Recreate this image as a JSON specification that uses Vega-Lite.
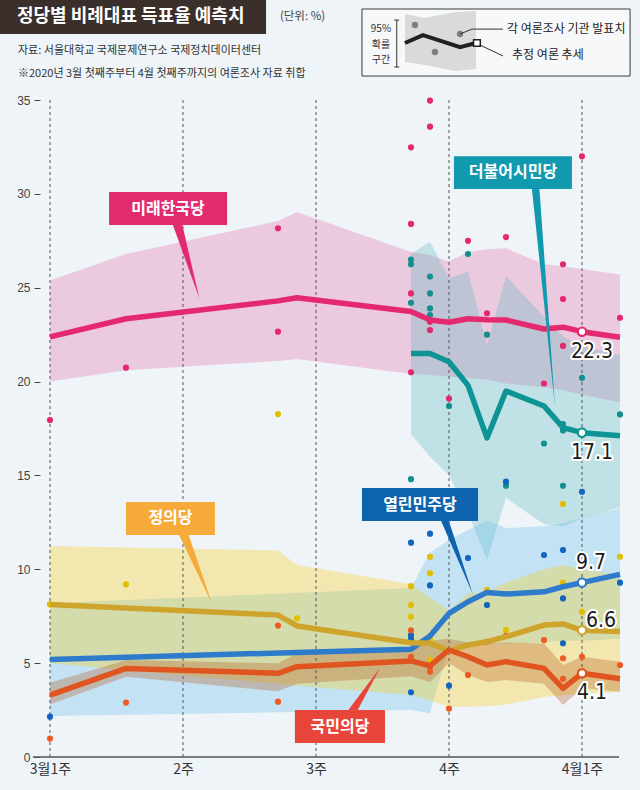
{
  "$schema": "https://vega.github.io/schema/vega-lite/v6.json",
  "width": 600,
  "height": 757,
  "autosize": "none",
  "padding": {"left": 40, "top": 0, "right": 0, "bottom": 33},
  "background": "#eef4f8",
  "config": {"view": {"stroke": null}, "font": "Noto Sans CJK KR", "axis": {"grid": false}},
  "resolve": {"scale": {"color": "independent"}},
  "data": {"values": [{}]},
  "datasets": {
    "trend": [
      {"party": "미래한국당", "day": 0, "est": 22.38, "lo": 20.0, "hi": 25.38},
      {"party": "미래한국당", "day": 4, "est": 23.35, "lo": 20.6, "hi": 26.8},
      {"party": "미래한국당", "day": 12, "est": 24.3, "lo": 21.1, "hi": 28.56},
      {"party": "미래한국당", "day": 13, "est": 24.47, "lo": 21.2, "hi": 29.04},
      {"party": "미래한국당", "day": 19, "est": 23.73, "lo": 20.4, "hi": 26.9},
      {"party": "미래한국당", "day": 20, "est": 23.28, "lo": 20.35, "hi": 26.75},
      {"party": "미래한국당", "day": 21, "est": 23.16, "lo": 20.26, "hi": 26.4},
      {"party": "미래한국당", "day": 22, "est": 23.35, "lo": 20.2, "hi": 26.9},
      {"party": "미래한국당", "day": 23, "est": 23.3, "lo": 20.1, "hi": 27.05},
      {"party": "미래한국당", "day": 24, "est": 23.28, "lo": 19.9, "hi": 27.1},
      {"party": "미래한국당", "day": 26, "est": 22.8, "lo": 19.7, "hi": 26.25},
      {"party": "미래한국당", "day": 27, "est": 22.9, "lo": 19.55, "hi": 26.15},
      {"party": "미래한국당", "day": 28, "est": 22.66, "lo": 19.3, "hi": 26.0},
      {"party": "미래한국당", "day": 30, "est": 22.36, "lo": 18.9, "hi": 25.7},
      {"party": "더불어시민당", "day": 19, "est": 21.5, "lo": 17.2, "hi": 26.8},
      {"party": "더불어시민당", "day": 20, "est": 21.5, "lo": 16.0, "hi": 27.45},
      {"party": "더불어시민당", "day": 21, "est": 21.06, "lo": 15.0, "hi": 25.5},
      {"party": "더불어시민당", "day": 22, "est": 19.8, "lo": 13.0, "hi": 25.85},
      {"party": "더불어시민당", "day": 23, "est": 17.0, "lo": 10.5, "hi": 21.95},
      {"party": "더불어시민당", "day": 24, "est": 19.5, "lo": 13.8, "hi": 25.6},
      {"party": "더불어시민당", "day": 26, "est": 18.7, "lo": 12.4, "hi": 23.46},
      {"party": "더불어시민당", "day": 27, "est": 17.55, "lo": 12.3, "hi": 22.4},
      {"party": "더불어시민당", "day": 28, "est": 17.28, "lo": 12.7, "hi": 21.9},
      {"party": "더불어시민당", "day": 30, "est": 17.12, "lo": 13.3, "hi": 21.4},
      {"party": "열린민주당", "day": 0, "est": 5.2, "lo": 2.18, "hi": 8.19},
      {"party": "열린민주당", "day": 19, "est": 5.74, "lo": 2.5, "hi": 9.0},
      {"party": "열린민주당", "day": 20, "est": 6.45, "lo": 2.33, "hi": 10.9},
      {"party": "열린민주당", "day": 21, "est": 7.65, "lo": 5.9, "hi": 11.56},
      {"party": "열린민주당", "day": 22, "est": 8.27, "lo": 6.0, "hi": 12.1},
      {"party": "열린민주당", "day": 23, "est": 8.77, "lo": 6.0, "hi": 12.6},
      {"party": "열린민주당", "day": 24, "est": 8.68, "lo": 6.05, "hi": 12.2},
      {"party": "열린민주당", "day": 26, "est": 8.8, "lo": 6.1, "hi": 12.3},
      {"party": "열린민주당", "day": 27, "est": 9.07, "lo": 6.2, "hi": 12.45},
      {"party": "열린민주당", "day": 28, "est": 9.29, "lo": 6.2, "hi": 12.75},
      {"party": "열린민주당", "day": 30, "est": 9.73, "lo": 6.3, "hi": 13.25},
      {"party": "정의당", "day": 0, "est": 8.13, "lo": 5.0, "hi": 11.24},
      {"party": "정의당", "day": 12, "est": 7.56, "lo": 3.9, "hi": 11.0},
      {"party": "정의당", "day": 13, "est": 6.98, "lo": 3.8, "hi": 10.23},
      {"party": "정의당", "day": 19, "est": 6.09, "lo": 3.3, "hi": 9.2},
      {"party": "정의당", "day": 20, "est": 6.06, "lo": 3.0, "hi": 8.5},
      {"party": "정의당", "day": 21, "est": 5.66, "lo": 2.68, "hi": 7.8},
      {"party": "정의당", "day": 22, "est": 5.97, "lo": 2.68, "hi": 8.7},
      {"party": "정의당", "day": 23, "est": 6.14, "lo": 2.7, "hi": 8.8},
      {"party": "정의당", "day": 24, "est": 6.41, "lo": 2.8, "hi": 9.3},
      {"party": "정의당", "day": 26, "est": 7.03, "lo": 3.2, "hi": 10.0},
      {"party": "정의당", "day": 27, "est": 7.09, "lo": 3.3, "hi": 10.23},
      {"party": "정의당", "day": 28, "est": 6.75, "lo": 3.35, "hi": 10.0},
      {"party": "정의당", "day": 30, "est": 6.68, "lo": 3.48, "hi": 9.7},
      {"party": "국민의당", "day": 0, "est": 3.3, "lo": 2.8, "hi": 3.95},
      {"party": "국민의당", "day": 4, "est": 4.72, "lo": 4.28, "hi": 5.17},
      {"party": "국민의당", "day": 12, "est": 4.46, "lo": 3.5, "hi": 5.0},
      {"party": "국민의당", "day": 13, "est": 4.81, "lo": 3.9, "hi": 5.5},
      {"party": "국민의당", "day": 19, "est": 5.12, "lo": 4.3, "hi": 5.8},
      {"party": "국민의당", "day": 20, "est": 4.85, "lo": 4.0, "hi": 6.2},
      {"party": "국민의당", "day": 21, "est": 5.7, "lo": 5.0, "hi": 6.3},
      {"party": "국민의당", "day": 22, "est": 5.34, "lo": 4.37, "hi": 6.1},
      {"party": "국민의당", "day": 23, "est": 4.9, "lo": 4.0, "hi": 6.05},
      {"party": "국민의당", "day": 24, "est": 5.08, "lo": 4.1, "hi": 6.1},
      {"party": "국민의당", "day": 26, "est": 4.72, "lo": 3.9, "hi": 6.05},
      {"party": "국민의당", "day": 27, "est": 3.66, "lo": 2.77, "hi": 4.9},
      {"party": "국민의당", "day": 28, "est": 4.46, "lo": 3.66, "hi": 5.34},
      {"party": "국민의당", "day": 30, "est": 4.17, "lo": 3.48, "hi": 5.08}
    ],
    "polls": [
      {"party": "미래한국당", "day": 0, "value": 17.95},
      {"party": "미래한국당", "day": 4, "value": 20.74},
      {"party": "미래한국당", "day": 12, "value": 28.17},
      {"party": "미래한국당", "day": 12, "value": 22.66},
      {"party": "미래한국당", "day": 19, "value": 32.48},
      {"party": "미래한국당", "day": 19, "value": 28.4},
      {"party": "미래한국당", "day": 19, "value": 24.7},
      {"party": "미래한국당", "day": 19, "value": 20.5},
      {"party": "미래한국당", "day": 20, "value": 34.97},
      {"party": "미래한국당", "day": 20, "value": 33.58},
      {"party": "미래한국당", "day": 20, "value": 23.19},
      {"party": "미래한국당", "day": 20, "value": 22.75},
      {"party": "미래한국당", "day": 21, "value": 19.1},
      {"party": "미래한국당", "day": 22, "value": 27.5},
      {"party": "미래한국당", "day": 23, "value": 23.64},
      {"party": "미래한국당", "day": 24, "value": 27.7},
      {"party": "미래한국당", "day": 26, "value": 19.9},
      {"party": "미래한국당", "day": 27, "value": 26.25},
      {"party": "미래한국당", "day": 27, "value": 24.4},
      {"party": "미래한국당", "day": 27, "value": 21.9},
      {"party": "미래한국당", "day": 28, "value": 32.0},
      {"party": "미래한국당", "day": 30, "value": 23.4},
      {"party": "더불어시민당", "day": 19, "value": 26.5},
      {"party": "더불어시민당", "day": 19, "value": 26.25},
      {"party": "더불어시민당", "day": 19, "value": 24.2},
      {"party": "더불어시민당", "day": 19, "value": 14.8},
      {"party": "더불어시민당", "day": 20, "value": 25.6},
      {"party": "더불어시민당", "day": 20, "value": 24.7},
      {"party": "더불어시민당", "day": 20, "value": 23.9},
      {"party": "더불어시민당", "day": 20, "value": 23.55},
      {"party": "더불어시민당", "day": 21, "value": 18.7},
      {"party": "더불어시민당", "day": 22, "value": 26.8},
      {"party": "더불어시민당", "day": 23, "value": 22.5},
      {"party": "더불어시민당", "day": 24, "value": 14.45},
      {"party": "더불어시민당", "day": 26, "value": 16.7},
      {"party": "더불어시민당", "day": 27, "value": 17.74},
      {"party": "더불어시민당", "day": 27, "value": 17.4},
      {"party": "더불어시민당", "day": 27, "value": 14.45},
      {"party": "더불어시민당", "day": 28, "value": 20.2},
      {"party": "더불어시민당", "day": 30, "value": 18.25},
      {"party": "열린민주당", "day": 0, "value": 2.15},
      {"party": "열린민주당", "day": 19, "value": 11.42},
      {"party": "열린민주당", "day": 19, "value": 6.5},
      {"party": "열린민주당", "day": 19, "value": 6.3},
      {"party": "열린민주당", "day": 19, "value": 3.45},
      {"party": "열린민주당", "day": 20, "value": 11.9},
      {"party": "열린민주당", "day": 20, "value": 9.14},
      {"party": "열린민주당", "day": 20, "value": 5.0},
      {"party": "열린민주당", "day": 21, "value": 3.8},
      {"party": "열린민주당", "day": 22, "value": 10.6},
      {"party": "열린민주당", "day": 23, "value": 8.1},
      {"party": "열린민주당", "day": 24, "value": 14.67},
      {"party": "열린민주당", "day": 26, "value": 10.76},
      {"party": "열린민주당", "day": 27, "value": 11.03},
      {"party": "열린민주당", "day": 27, "value": 8.45},
      {"party": "열린민주당", "day": 27, "value": 6.06},
      {"party": "열린민주당", "day": 28, "value": 14.13},
      {"party": "열린민주당", "day": 30, "value": 9.29},
      {"party": "정의당", "day": 0, "value": 8.13},
      {"party": "정의당", "day": 4, "value": 9.2},
      {"party": "정의당", "day": 12, "value": 18.27},
      {"party": "정의당", "day": 13, "value": 7.39},
      {"party": "정의당", "day": 19, "value": 9.1},
      {"party": "정의당", "day": 19, "value": 8.1},
      {"party": "정의당", "day": 19, "value": 7.47},
      {"party": "정의당", "day": 20, "value": 10.67},
      {"party": "정의당", "day": 20, "value": 9.79},
      {"party": "정의당", "day": 20, "value": 6.23},
      {"party": "정의당", "day": 20, "value": 5.17},
      {"party": "정의당", "day": 23, "value": 8.9},
      {"party": "정의당", "day": 24, "value": 6.77},
      {"party": "정의당", "day": 27, "value": 13.48},
      {"party": "정의당", "day": 27, "value": 9.29},
      {"party": "정의당", "day": 28, "value": 7.74},
      {"party": "정의당", "day": 30, "value": 10.67},
      {"party": "국민의당", "day": 0, "value": 0.98},
      {"party": "국민의당", "day": 4, "value": 2.9},
      {"party": "국민의당", "day": 12, "value": 7.0},
      {"party": "국민의당", "day": 12, "value": 2.95},
      {"party": "국민의당", "day": 19, "value": 6.75},
      {"party": "국민의당", "day": 19, "value": 5.34},
      {"party": "국민의당", "day": 20, "value": 4.8},
      {"party": "국민의당", "day": 20, "value": 4.55},
      {"party": "국민의당", "day": 21, "value": 2.58},
      {"party": "국민의당", "day": 22, "value": 4.37},
      {"party": "국민의당", "day": 23, "value": 6.14},
      {"party": "국민의당", "day": 24, "value": 6.45},
      {"party": "국민의당", "day": 26, "value": 6.23},
      {"party": "국민의당", "day": 27, "value": 5.26},
      {"party": "국민의당", "day": 27, "value": 4.16},
      {"party": "국민의당", "day": 28, "value": 5.34},
      {"party": "국민의당", "day": 30, "value": 4.9}
    ],
    "ends": [
      {"party": "미래한국당", "day": 28, "value": 22.66, "label": "22.3"},
      {"party": "더불어시민당", "day": 28, "value": 17.28, "label": "17.1"},
      {"party": "열린민주당", "day": 28, "value": 9.29, "label": "9.7"},
      {"party": "정의당", "day": 28, "value": 6.75, "label": "6.6"},
      {"party": "국민의당", "day": 28, "value": 4.46, "label": "4.1"}
    ],
    "weeks": [{"day": 0}, {"day": 7}, {"day": 14}, {"day": 21}, {"day": 28}],
    "boxes": [
      {"party": "미래한국당", "x1": 3.11, "x2": 9.32, "y1": 30.1, "y2": 28.34, "tx": 6.21, "ty": 29.22},
      {"party": "더불어시민당", "x1": 21.26, "x2": 27.47, "y1": 32.0, "y2": 30.26, "tx": 24.37, "ty": 31.14},
      {"party": "열린민주당", "x1": 16.42, "x2": 22.53, "y1": 14.33, "y2": 12.57, "tx": 19.47, "ty": 13.45},
      {"party": "정의당", "x1": 4.0, "x2": 8.68, "y1": 13.58, "y2": 11.83, "tx": 6.34, "ty": 12.71},
      {"party": "국민의당", "x1": 12.89, "x2": 17.63, "y1": 2.5, "y2": 0.75, "tx": 15.26, "ty": 1.62}
    ],
    "pointers": [
      {"party": "미래한국당", "y": 28.5, "xa": 6.41, "xb": 6.93},
      {"party": "미래한국당", "y": 24.44, "xa": 7.86, "xb": 7.86},
      {"party": "더불어시민당", "y": 30.4, "xa": 25.35, "xb": 25.75},
      {"party": "더불어시민당", "y": 18.66, "xa": 26.58, "xb": 26.58},
      {"party": "열린민주당", "y": 12.7, "xa": 20.53, "xb": 20.95},
      {"party": "열린민주당", "y": 8.68, "xa": 22.25, "xb": 22.25},
      {"party": "정의당", "y": 11.95, "xa": 6.74, "xb": 7.26},
      {"party": "정의당", "y": 8.15, "xa": 8.53, "xb": 8.53},
      {"party": "국민의당", "y": 2.4, "xa": 15.62, "xb": 16.14},
      {"party": "국민의당", "y": 4.74, "xa": 17.37, "xb": 17.37}
    ],
    "legendBand": [
      {"d": 18.684, "lo": 37.03, "hi": 39.58},
      {"d": 19.737, "lo": 36.87, "hi": 39.37},
      {"d": 21.316, "lo": 36.55, "hi": 39.69},
      {"d": 22.421, "lo": 36.66, "hi": 39.74}
    ],
    "legendDots": [
      {"d": 19.21, "v": 39.0},
      {"d": 21.58, "v": 38.52},
      {"d": 20.26, "v": 37.56}
    ],
    "legendLine": [
      {"d": 18.68, "v": 38.04},
      {"d": 19.63, "v": 38.46},
      {"d": 21.58, "v": 37.82},
      {"d": 22.42, "v": 38.04}
    ],
    "legendLeader1": [
      {"d": 21.58, "v": 38.52},
      {"d": 22.21, "v": 38.78},
      {"d": 23.84, "v": 38.78}
    ],
    "legendLeader2": [
      {"d": 22.53, "v": 37.98},
      {"d": 23.84, "v": 37.35}
    ],
    "legendCI": [
      {"t": "95%", "v": 38.76},
      {"t": "확률", "v": 37.95},
      {"t": "구간", "v": 37.15}
    ]
  },
  "layer": [
    {
      "data": {"name": "trend"},
      "mark": {"type": "area", "fillOpacity": 0.3},
      "encoding": {
        "x": {"field": "day", "type": "quantitative", "scale": {"domain": [-0.5263, 31.0526], "nice": false, "zero": false},
          "axis": {"values": [0, 7, 14, 21, 28], "labelExpr": "datum.value == 0 ? '3월1주' : datum.value == 28 ? '4월1주' : (datum.value / 7 + 1) + '주'", "ticks": false, "domain": false, "labelPadding": 5, "labelFontSize": 14, "labelColor": "#333333", "labelFont": "Noto Sans CJK KR", "title": null, "grid": false}},
        "y": {"field": "lo", "type": "quantitative", "scale": {"domain": [0, 40.33], "nice": false, "zero": false},
          "axis": {"values": [0, 5, 10, 15, 20, 25, 30, 35], "tickSize": 6, "tickColor": "#444444", "domain": false, "labelPadding": 4, "labelFontSize": 12, "labelColor": "#444444", "labelFont": "Liberation Sans", "title": null, "grid": false}},
        "y2": {"field": "hi"},
        "fill": {"field": "party", "type": "nominal", "legend": null,
          "scale": {"domain": ["미래한국당", "더불어시민당", "열린민주당", "정의당", "국민의당"], "range": ["#e468a5", "#55b8bc", "#5fbbeb", "#fbcc08", "#b25418"]}}
      }
    },
    {
      "data": {"name": "weeks"},
      "mark": {"type": "rule", "strokeDash": [3, 3], "color": "#555555", "strokeWidth": 1},
      "encoding": {
        "x": {"field": "day", "type": "quantitative"},
        "y": {"datum": 0, "type": "quantitative"},
        "y2": {"datum": 35}
      }
    },
    {
      "mark": {"type": "rule", "color": "#555555", "strokeWidth": 1.5},
      "encoding": {
        "x": {"datum": -0.9, "type": "quantitative"},
        "x2": {"datum": 29.95},
        "y": {"datum": 0, "type": "quantitative"}
      }
    },
    {
      "data": {"name": "polls"},
      "mark": {"type": "point", "filled": true, "size": 38, "opacity": 1},
      "encoding": {
        "x": {"field": "day", "type": "quantitative"},
        "y": {"field": "value", "type": "quantitative"},
        "color": {"field": "party", "type": "nominal", "legend": null,
          "scale": {"domain": ["미래한국당", "더불어시민당", "열린민주당", "정의당", "국민의당"], "range": ["#e4296f", "#138f8f", "#1366bd", "#e2bd00", "#ee5a24"]}}
      }
    },
    {
      "data": {"name": "trend"},
      "mark": {"type": "line", "strokeWidth": 5.5, "strokeJoin": "round"},
      "encoding": {
        "x": {"field": "day", "type": "quantitative"},
        "y": {"field": "est", "type": "quantitative"},
        "stroke": {"field": "party", "type": "nominal", "legend": null,
          "scale": {"domain": ["미래한국당", "더불어시민당", "열린민주당", "정의당", "국민의당"], "range": ["#e4296f", "#0e9494", "#2e7bcb", "#cfa42c", "#e0541f"]}}
      }
    },
    {
      "data": {"name": "pointers"},
      "mark": {"type": "area", "orient": "horizontal"},
      "encoding": {
        "y": {"field": "y", "type": "quantitative"},
        "x": {"field": "xa", "type": "quantitative"},
        "x2": {"field": "xb"},
        "color": {"field": "party", "type": "nominal", "legend": null,
          "scale": {"domain": ["미래한국당", "더불어시민당", "열린민주당", "정의당", "국민의당"], "range": ["#e22b6e", "#1199af", "#0e63ae", "#f5aa3a", "#e8453a"]}}
      }
    },
    {
      "data": {"name": "boxes"},
      "mark": {"type": "rect"},
      "encoding": {
        "x": {"field": "x1", "type": "quantitative"},
        "x2": {"field": "x2"},
        "y": {"field": "y1", "type": "quantitative"},
        "y2": {"field": "y2"},
        "color": {"field": "party", "type": "nominal", "legend": null,
          "scale": {"domain": ["미래한국당", "더불어시민당", "열린민주당", "정의당", "국민의당"], "range": ["#e22b6e", "#1199af", "#0e63ae", "#f5aa3a", "#e8453a"]}}
      }
    },
    {
      "data": {"name": "boxes"},
      "mark": {"type": "text", "color": "white", "fontSize": 16, "fontWeight": "bold", "font": "Noto Sans CJK KR", "align": "center", "baseline": "middle"},
      "encoding": {
        "x": {"field": "tx", "type": "quantitative"},
        "y": {"field": "ty", "type": "quantitative"},
        "text": {"field": "party"}
      }
    },
    {
      "data": {"name": "ends"},
      "mark": {"type": "point", "filled": true, "fill": "white", "size": 70, "strokeWidth": 2.2, "opacity": 1},
      "encoding": {
        "x": {"field": "day", "type": "quantitative"},
        "y": {"field": "value", "type": "quantitative"},
        "stroke": {"field": "party", "type": "nominal", "legend": null}
      }
    },
    {
      "data": {"name": "ends"},
      "transform": [{"filter": "datum.party == '미래한국당' || datum.party == '더불어시민당' || datum.party == '국민의당'"}],
      "layer": [
        {"mark": {"type": "text", "fontSize": 21, "font": "DejaVu Sans Condensed, Liberation Sans, sans-serif", "align": "center", "baseline": "middle", "dx": 10, "dy": 20, "stroke": "white", "strokeWidth": 4, "fill": "white", "strokeJoin": "round"}},
        {"mark": {"type": "text", "fontSize": 21, "font": "DejaVu Sans Condensed, Liberation Sans, sans-serif", "align": "center", "baseline": "middle", "dx": 10, "dy": 20, "fill": "#1a1a1a"}}
      ],
      "encoding": {
        "x": {"field": "day", "type": "quantitative"},
        "y": {"field": "value", "type": "quantitative"},
        "text": {"field": "label"}
      }
    },
    {
      "data": {"name": "ends"},
      "transform": [{"filter": "datum.party == '열린민주당'"}],
      "layer": [
        {"mark": {"type": "text", "fontSize": 21, "font": "DejaVu Sans Condensed, Liberation Sans, sans-serif", "align": "center", "baseline": "middle", "dx": 9, "dy": -20, "stroke": "white", "strokeWidth": 4, "fill": "white", "strokeJoin": "round"}},
        {"mark": {"type": "text", "fontSize": 21, "font": "DejaVu Sans Condensed, Liberation Sans, sans-serif", "align": "center", "baseline": "middle", "dx": 9, "dy": -20, "fill": "#1a1a1a"}}
      ],
      "encoding": {
        "x": {"field": "day", "type": "quantitative"},
        "y": {"field": "value", "type": "quantitative"},
        "text": {"field": "label"}
      }
    },
    {
      "data": {"name": "ends"},
      "transform": [{"filter": "datum.party == '정의당'"}],
      "layer": [
        {"mark": {"type": "text", "fontSize": 21, "font": "DejaVu Sans Condensed, Liberation Sans, sans-serif", "align": "center", "baseline": "middle", "dx": 19, "dy": -9, "stroke": "white", "strokeWidth": 4, "fill": "white", "strokeJoin": "round"}},
        {"mark": {"type": "text", "fontSize": 21, "font": "DejaVu Sans Condensed, Liberation Sans, sans-serif", "align": "center", "baseline": "middle", "dx": 19, "dy": -9, "fill": "#1a1a1a"}}
      ],
      "encoding": {
        "x": {"field": "day", "type": "quantitative"},
        "y": {"field": "value", "type": "quantitative"},
        "text": {"field": "label"}
      }
    },
    {
      "mark": {"type": "rect", "color": "#3a2f2b"},
      "encoding": {
        "x": {"datum": -2.7, "type": "quantitative"},
        "x2": {"datum": 11.37},
        "y": {"datum": 40.6, "type": "quantitative"},
        "y2": {"datum": 38.52}
      }
    },
    {
      "mark": {"type": "text", "text": "정당별 비례대표 득표율 예측치", "color": "white", "fontSize": 18, "fontWeight": "bold", "font": "Noto Sans CJK KR", "align": "left", "baseline": "middle"},
      "encoding": {
        "x": {"datum": -1.74, "type": "quantitative"},
        "y": {"datum": 39.42, "type": "quantitative"}
      }
    },
    {
      "mark": {"type": "text", "text": "(단위: %)", "color": "#444444", "fontSize": 11.5, "font": "Noto Sans CJK KR", "align": "left", "baseline": "middle"},
      "encoding": {
        "x": {"datum": 12.1, "type": "quantitative"},
        "y": {"datum": 39.42, "type": "quantitative"}
      }
    },
    {
      "mark": {"type": "text", "text": "자료: 서울대학교 국제문제연구소 국제정치데이터센터", "color": "#333333", "fontSize": 11, "font": "Noto Sans CJK KR", "align": "left", "baseline": "middle"},
      "encoding": {
        "x": {"datum": -1.684, "type": "quantitative"},
        "y": {"datum": 37.61, "type": "quantitative"}
      }
    },
    {
      "mark": {"type": "text", "text": "※2020년 3월 첫째주부터 4월 첫째주까지의 여론조사 자료 취합", "color": "#333333", "fontSize": 11, "font": "Noto Sans CJK KR", "align": "left", "baseline": "middle"},
      "encoding": {
        "x": {"datum": -1.684, "type": "quantitative"},
        "y": {"datum": 36.4, "type": "quantitative"}
      }
    },
    {
      "mark": {"type": "rect", "fill": "#f6f8f9", "stroke": "#3a3a3a", "strokeWidth": 1},
      "encoding": {
        "x": {"datum": 16.42, "type": "quantitative"},
        "x2": {"datum": 30.53},
        "y": {"datum": 39.85, "type": "quantitative"},
        "y2": {"datum": 36.28}
      }
    },
    {
      "data": {"name": "legendBand"},
      "mark": {"type": "area", "color": "#d8dadb"},
      "encoding": {
        "x": {"field": "d", "type": "quantitative"},
        "y": {"field": "lo", "type": "quantitative"},
        "y2": {"field": "hi"}
      }
    },
    {
      "data": {"name": "legendDots"},
      "mark": {"type": "point", "filled": true, "size": 40, "color": "#7d7d7d", "opacity": 1},
      "encoding": {
        "x": {"field": "d", "type": "quantitative"},
        "y": {"field": "v", "type": "quantitative"}
      }
    },
    {
      "data": {"name": "legendLeader1"},
      "mark": {"type": "line", "color": "#333333", "strokeWidth": 1},
      "encoding": {
        "x": {"field": "d", "type": "quantitative"},
        "y": {"field": "v", "type": "quantitative"}
      }
    },
    {
      "data": {"name": "legendLeader2"},
      "mark": {"type": "line", "color": "#333333", "strokeWidth": 1},
      "encoding": {
        "x": {"field": "d", "type": "quantitative"},
        "y": {"field": "v", "type": "quantitative"}
      }
    },
    {
      "data": {"name": "legendLine"},
      "mark": {"type": "line", "color": "#231f20", "strokeWidth": 4},
      "encoding": {
        "x": {"field": "d", "type": "quantitative"},
        "y": {"field": "v", "type": "quantitative"}
      }
    },
    {
      "mark": {"type": "point", "shape": "square", "filled": true, "fill": "white", "stroke": "#231f20", "strokeWidth": 1.5, "size": 45, "opacity": 1},
      "encoding": {
        "x": {"datum": 22.47, "type": "quantitative"},
        "y": {"datum": 38.04, "type": "quantitative"}
      }
    },
    {
      "mark": {"type": "rule", "color": "#333333", "strokeWidth": 1},
      "encoding": {
        "x": {"datum": 18.25, "type": "quantitative"},
        "y": {"datum": 39.26, "type": "quantitative"},
        "y2": {"datum": 36.76}
      }
    },
    {
      "mark": {"type": "rule", "color": "#333333", "strokeWidth": 1},
      "encoding": {
        "x": {"datum": 18.12, "type": "quantitative"},
        "x2": {"datum": 18.38},
        "y": {"datum": 39.26, "type": "quantitative"}
      }
    },
    {
      "mark": {"type": "rule", "color": "#333333", "strokeWidth": 1},
      "encoding": {
        "x": {"datum": 18.12, "type": "quantitative"},
        "x2": {"datum": 18.38},
        "y": {"datum": 36.76, "type": "quantitative"}
      }
    },
    {
      "data": {"name": "legendCI"},
      "mark": {"type": "text", "fontSize": 10, "color": "#333333", "font": "Noto Sans CJK KR", "align": "center", "baseline": "middle"},
      "encoding": {
        "x": {"datum": 17.42, "type": "quantitative"},
        "y": {"field": "v", "type": "quantitative"},
        "text": {"field": "t"}
      }
    },
    {
      "mark": {"type": "text", "text": "각 여론조사 기관 발표치", "color": "#222222", "fontSize": 12, "font": "Noto Sans CJK KR", "align": "left", "baseline": "middle"},
      "encoding": {
        "x": {"datum": 24.05, "type": "quantitative"},
        "y": {"datum": 38.78, "type": "quantitative"}
      }
    },
    {
      "mark": {"type": "text", "text": "추정 여론 추세", "color": "#222222", "fontSize": 12, "font": "Noto Sans CJK KR", "align": "left", "baseline": "middle"},
      "encoding": {
        "x": {"datum": 24.32, "type": "quantitative"},
        "y": {"datum": 37.41, "type": "quantitative"}
      }
    }
  ]
}
